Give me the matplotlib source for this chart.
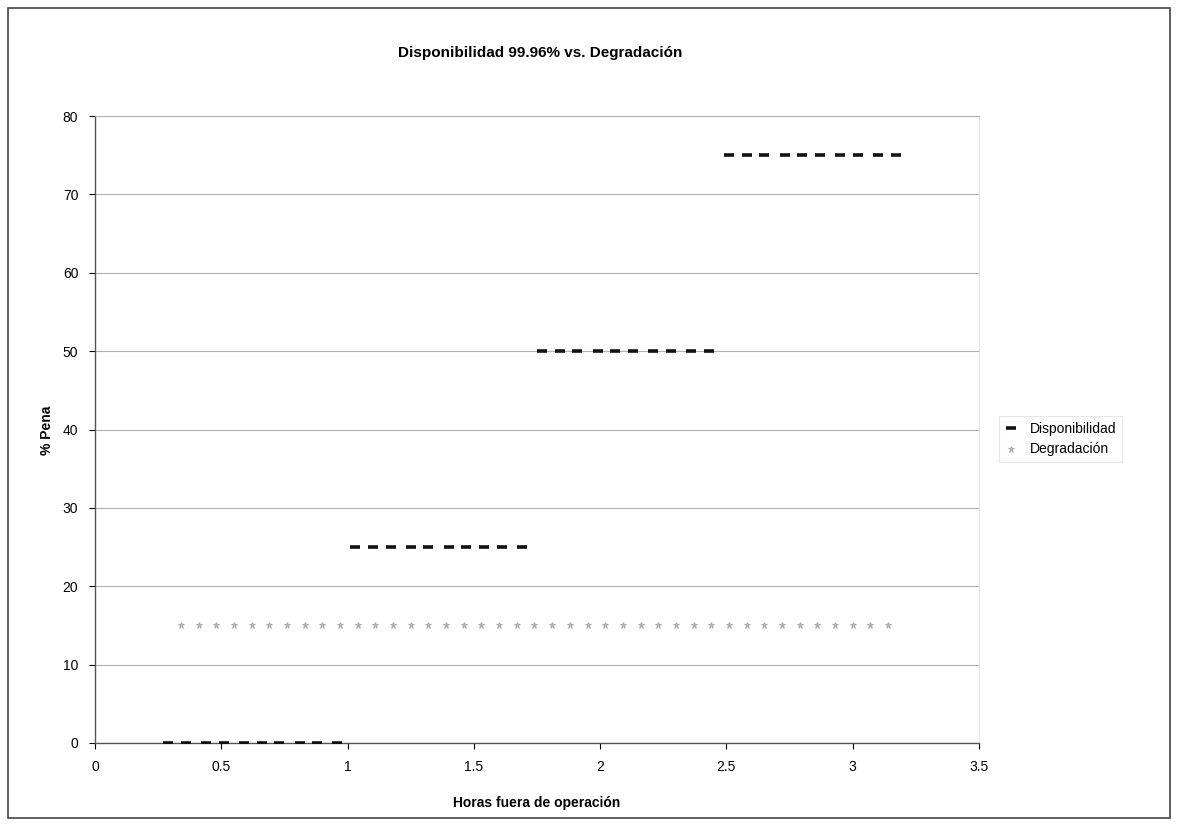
import matplotlib
matplotlib.use("Agg")
import matplotlib.pyplot as plt
from matplotlib.patches import Rectangle

plt.rcParams['font.family'] = ['Liberation Sans', 'DejaVu Sans']

# Data
horas = [0.29, 0.36, 0.44, 0.51, 0.59, 0.66, 0.73, 0.81, 0.88, 0.96,
         1.03, 1.10, 1.17, 1.25, 1.32, 1.40, 1.47, 1.54, 1.61, 1.69,
         1.77, 1.84, 1.91, 1.99, 2.06, 2.13, 2.21, 2.28, 2.36, 2.43,
         2.51, 2.58, 2.65, 2.73, 2.80, 2.87, 2.95, 3.02, 3.10, 3.17]
disponibilidad = [0]*10 + [25]*10 + [50]*10 + [75]*10
horas_deg = [0.34, 0.41, 0.48, 0.55, 0.62, 0.69, 0.76, 0.83, 0.90, 0.97,
             1.04, 1.11, 1.18, 1.25, 1.32, 1.39, 1.46, 1.53, 1.60, 1.67,
             1.74, 1.81, 1.88, 1.95, 2.02, 2.09, 2.16, 2.23, 2.30, 2.37,
             2.44, 2.51, 2.58, 2.65, 2.72, 2.79, 2.86, 2.93, 3.00, 3.07, 3.14]
degradacion = [15]*41

title = "Disponibilidad 99.96% vs. Degradación"
xlabel = "Horas fuera de operación"
ylabel = "% Pena"
xticks = [0, 0.5, 1, 1.5, 2, 2.5, 3, 3.5]
xticklabels = ["0", "0.5", "1", "1.5", "2", "2.5", "3", "3.5"]
yticks = [0, 10, 20, 30, 40, 50, 60, 70, 80]

W, H = 1178, 825
fig = plt.figure(figsize=(W/100, H/100), dpi=100)
ax = fig.add_axes([95/W, 1-743/H, (979-95)/W, (743-116)/H])

ax.plot(horas_deg, degradacion, linestyle='none', marker='*', markersize=5,
        color='#bdbdbd', markeredgecolor='#a0a0a0', markeredgewidth=0.5,
        label='Degradación', zorder=3)
ax.plot(horas, disponibilidad, linestyle='none', marker='_', markersize=7.5,
        markeredgewidth=2.6, color='#111111', label='Disponibilidad', zorder=4)

ax.set_xlim(0, 3.5)
ax.set_ylim(0, 80)
ax.set_xticks(xticks)
ax.set_xticklabels(xticklabels)
ax.set_yticks(yticks)
ax.grid(axis='y', color='#b0b0b0', linewidth=0.8)
ax.set_axisbelow(True)
ax.tick_params(axis='both', labelsize=10, direction='out', length=4, width=0.8)
ax.tick_params(axis='x', pad=8)
ax.tick_params(axis='y', pad=8)
ax.spines['top'].set_color('#b0b0b0')
ax.spines['top'].set_linewidth(0.8)
ax.spines['right'].set_color('#e4e4e4')
ax.spines['right'].set_linewidth(0.8)
for s in ['left', 'bottom']:
    ax.spines[s].set_color('#555555')
    ax.spines[s].set_linewidth(1.0)

fig.text(540/W, 1-53/H, title, ha='center', va='center', fontsize=11, fontweight='bold')
fig.text(537/W, 1-803/H, xlabel, ha='center', va='center', fontsize=10, fontweight='bold')
fig.text(47/W, 1-430/H, ylabel, ha='center', va='center', fontsize=10, fontweight='bold', rotation=90)

handles, labels = ax.get_legend_handles_labels()
leg = fig.legend(handles[::-1], labels[::-1], loc='center left',
                 bbox_to_anchor=(992/W, 1-439/H), fontsize=10, frameon=True,
                 fancybox=False, edgecolor='#e0e0e0', handlelength=1.0,
                 handletextpad=0.8, borderpad=0.4, labelspacing=0.5)
leg.get_frame().set_linewidth(0.8)

fig.patches.append(Rectangle((8/W, 1-818/H), (1170-8)/W, (818-8)/H,
                             transform=fig.transFigure, fill=False,
                             edgecolor='#444444', linewidth=1.2))

fig.savefig('out.png', dpi=100)
